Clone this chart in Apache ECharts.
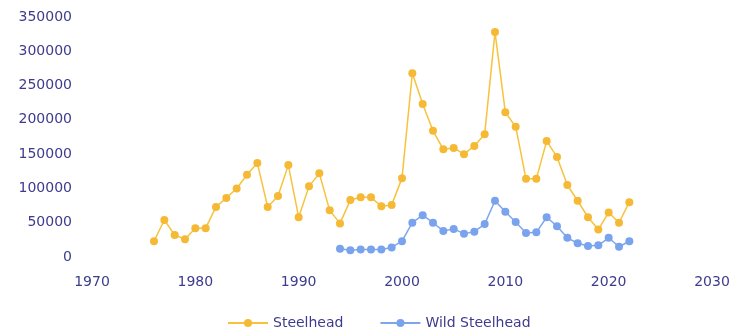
<!DOCTYPE html>
<html>
<head>
    <meta charset="utf-8">
    <title>Steelhead</title>
    <script src="https://cdn.jsdelivr.net/npm/echarts@6.0.0/dist/echarts.min.js"></script>
    <style>
        html, body { margin: 0; padding: 0; background: #fff; }
        #chart { width: 746px; height: 336px; }
    </style>
</head>
<body>
    <div id="chart"></div>
    <script>
        // 数据
        const steelheadYears = [1976, 1977, 1978, 1979, 1980, 1981, 1982, 1983, 1984, 1985,
            1986, 1987, 1988, 1989, 1990, 1991, 1992, 1993, 1994, 1995, 1996, 1997, 1998, 1999,
            2000, 2001, 2002, 2003, 2004, 2005, 2006, 2007, 2008, 2009, 2010, 2011, 2012, 2013,
            2014, 2015, 2016, 2017, 2018, 2019, 2020, 2021, 2022];
        const steelheadValues = [23000, 54000, 32000, 26000, 42000, 42000, 73000, 86000, 100000, 120000,
            137000, 73000, 89000, 134000, 58000, 103000, 122000, 68000, 49000, 83000, 87000, 87000, 74000, 76000,
            115000, 268000, 223000, 184000, 157000, 159000, 150000, 162000, 179000, 328000, 211000, 190000, 114000, 114000,
            169000, 146000, 105000, 82000, 58000, 40000, 65000, 50000, 80000];
        const wildYears = [1994, 1995, 1996, 1997, 1998, 1999, 2000, 2001, 2002, 2003, 2004, 2005,
            2006, 2007, 2008, 2009, 2010, 2011, 2012, 2013, 2014, 2015, 2016, 2017, 2018, 2019,
            2020, 2021, 2022];
        const wildValues = [12000, 10000, 11000, 11000, 11000, 14000, 23000, 50000, 61000, 50000, 38000, 41000,
            34000, 37000, 48000, 82000, 66000, 51000, 35000, 36000, 58000, 45000, 28000, 20000, 16000, 17000,
            28000, 15000, 23000];

        const textColor = '#3d3b8e';
        const pair = (xs, ys) => xs.map((x, i) => [x, ys[i]]);

        let chart = echarts.init(document.getElementById('chart'));
        chart.setOption({
            animation: false,
            textStyle: { fontFamily: 'DejaVu Sans' },
            grid: { left: 92, right: 34, top: 17, bottom: 79 },
            legend: {
                bottom: 1,
                left: 222,
                itemWidth: 40,
                itemHeight: 10,
                itemGap: 36,
                textStyle: { color: textColor, fontSize: 14 },
                data: ['Steelhead', 'Wild Steelhead']
            },
            xAxis: {
                type: 'value',
                min: 1970,
                max: 2030,
                interval: 10,
                axisLine: { show: false },
                axisTick: { show: false },
                splitLine: { show: false },
                axisLabel: { color: textColor, fontSize: 14, margin: 18, formatter: v => String(v) }
            },
            yAxis: {
                type: 'value',
                min: 0,
                max: 350000,
                interval: 50000,
                axisLine: { show: false },
                axisTick: { show: false },
                splitLine: { show: false },
                axisLabel: { color: textColor, fontSize: 14, margin: 20, formatter: v => String(v) }
            },
            series: [{
                name: 'Steelhead',
                type: 'line',
                data: pair(steelheadYears, steelheadValues),
                symbol: 'circle',
                symbolSize: 8,
                lineStyle: { color: '#f7c23c', width: 1.5 },
                itemStyle: { color: '#f5b935' }
            }, {
                name: 'Wild Steelhead',
                type: 'line',
                data: pair(wildYears, wildValues),
                symbol: 'circle',
                symbolSize: 8,
                lineStyle: { color: '#7ea6ee', width: 1.5 },
                itemStyle: { color: '#7aa3ee' }
            }]
        });
    </script>
</body>
</html>
